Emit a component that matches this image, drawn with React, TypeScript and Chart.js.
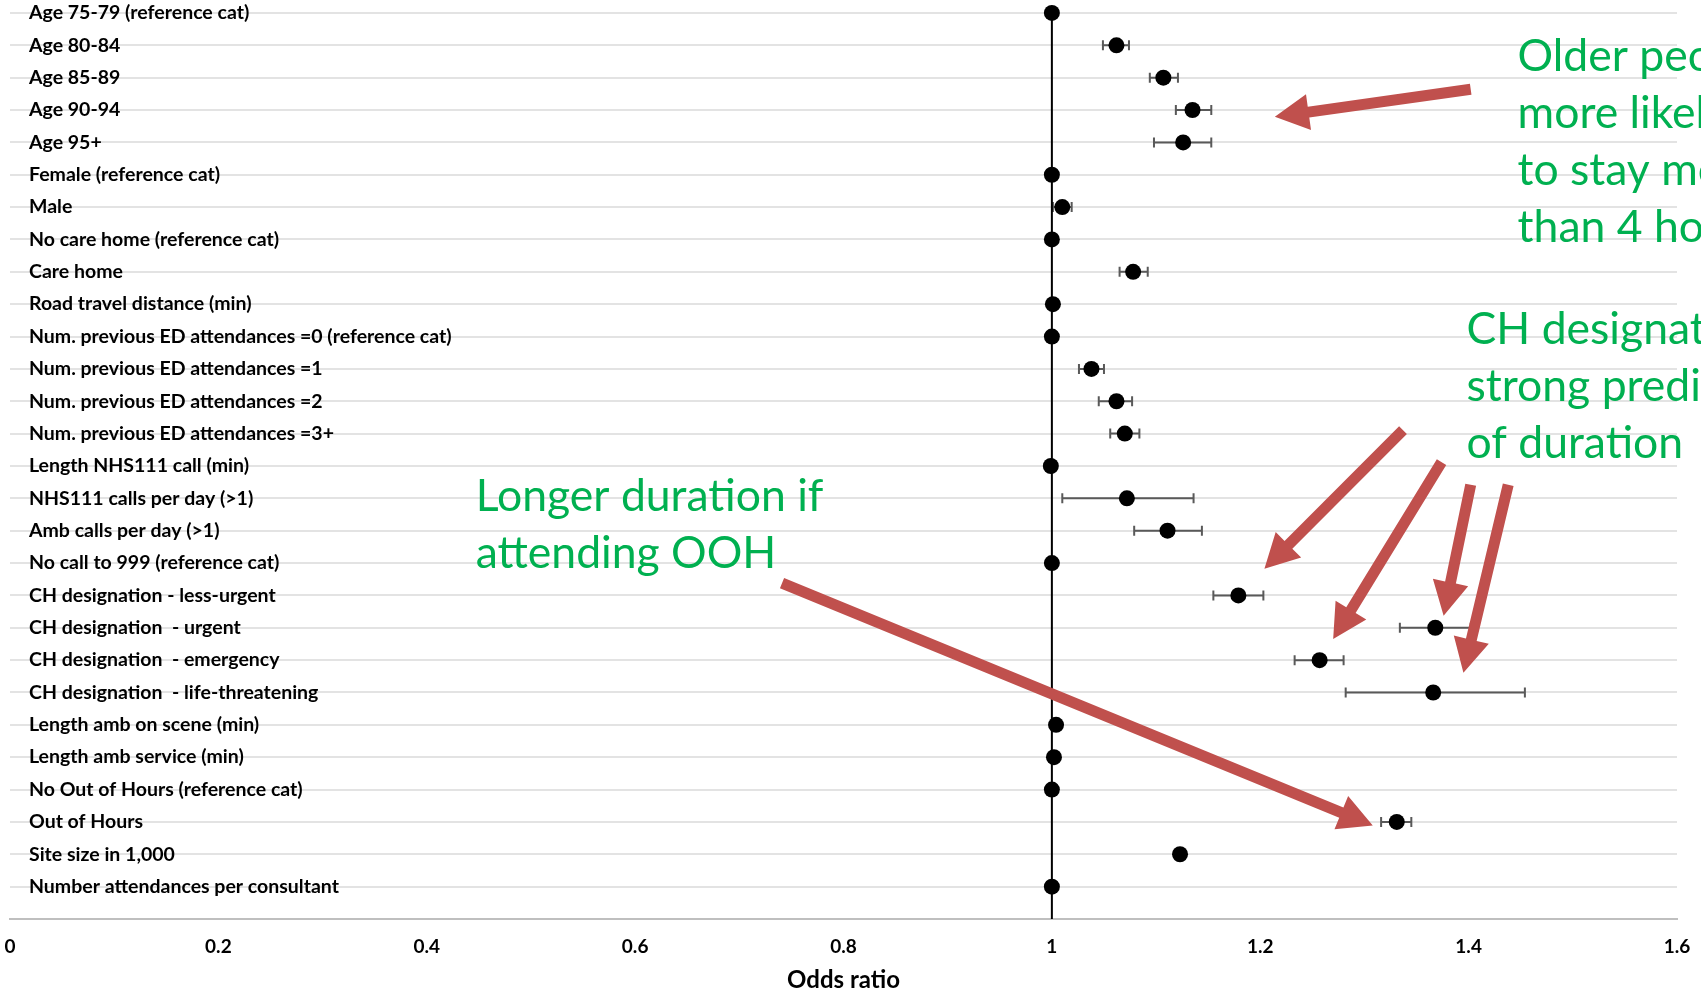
import React, { useEffect, useRef } from "react";
import { Chart, registerables } from "chart.js";

Chart.register(...registerables);

const categories: string[] = [
  "Age 75-79 (reference cat)",
  "Age 80-84",
  "Age 85-89",
  "Age 90-94",
  "Age 95+",
  "Female (reference cat)",
  "Male",
  "No care home (reference cat)",
  "Care home",
  "Road travel distance (min)",
  "Num. previous ED attendances =0 (reference cat)",
  "Num. previous ED attendances =1",
  "Num. previous ED attendances =2",
  "Num. previous ED attendances =3+",
  "Length NHS111 call (min)",
  "NHS111 calls per day (>1)",
  "Amb calls per day (>1)",
  "No call to 999 (reference cat)",
  "CH designation - less-urgent",
  "CH designation  - urgent",
  "CH designation  - emergency",
  "CH designation  - life-threatening",
  "Length amb on scene (min)",
  "Length amb service (min)",
  "No Out of Hours (reference cat)",
  "Out of Hours",
  "Site size in 1,000",
  "Number attendances per consultant",
];

const oddsRatios: number[] = [
  1.0, 1.062, 1.107, 1.135, 1.126, 1.0, 1.01, 1.0, 1.078, 1.001, 1.0, 1.038,
  1.062, 1.07, 0.999, 1.072, 1.111, 1.0, 1.179, 1.368, 1.257, 1.366, 1.004,
  1.002, 1.0, 1.331, 1.123, 1.0,
];

const lowerCI: (number | null)[] = [
  null, 1.049, 1.094, 1.119, 1.098, null, 1.001, null, 1.065, 1.0, null, 1.026,
  1.045, 1.056, 0.998, 1.01, 1.079, null, 1.155, 1.334, 1.233, 1.282, 1.003,
  1.001, null, 1.316, 1.12, null,
];

const upperCI: (number | null)[] = [
  null, 1.074, 1.121, 1.153, 1.153, null, 1.019, null, 1.092, 1.002, null, 1.05,
  1.077, 1.084, 1.0, 1.136, 1.144, null, 1.203, 1.402, 1.28, 1.454, 1.005,
  1.003, null, 1.345, 1.127, null,
];

const xTicks = { min: 0, max: 1.6, step: 0.2 };
const referenceOR = 1;

// annotation arrows, in chart value coordinates [oddsRatio, rowValue]
const arrows: { from: [number, number]; to: [number, number] }[] = [
  { from: [1.402, 25.64], to: [1.214, 24.79] },
  { from: [1.337, 15.11], to: [1.204, 10.82] },
  { from: [1.374, 14.12], to: [1.27, 8.65] },
  { from: [1.402, 13.42], to: [1.376, 9.37] },
  { from: [1.438, 13.42], to: [1.395, 7.61] },
  { from: [0.741, 10.38], to: [1.308, 2.89] },
];

const notes: { lines: string[]; at: [number, number] }[] = [
  { lines: ["Older people", "more likely", "to stay more", "than 4 hours"], at: [1.447, 26.66] },
  { lines: ["CH designation", "strong predictor", "of duration"], at: [1.398, 18.22] },
  { lines: ["Longer duration if", "attending OOH"], at: [0.447, 13.06] },
];

const FONT = "Lato, 'Open Sans', sans-serif";

const zeroPadding = (s: any) => {
  s.paddingTop = 0;
  s.paddingBottom = 0;
  s.paddingLeft = 0;
  s.paddingRight = 0;
};

export default function App() {
  const ref = useRef<HTMLCanvasElement>(null);

  useEffect(() => {
    const canvas = ref.current!;
    const n = categories.length;

    const errorBars = {
      id: "errorBars",
      beforeDatasetsDraw(chart: any) {
        const { ctx, scales } = chart;
        const x = scales.x, y = scales.y;
        ctx.save();
        ctx.strokeStyle = "#595959";
        ctx.lineWidth = 2;
        lowerCI.forEach((lo, i) => {
          const hi = upperCI[i];
          if (lo == null || hi == null) return;
          const py = y.getPixelForValue(n - i);
          const x1 = x.getPixelForValue(lo);
          const x2 = x.getPixelForValue(hi);
          ctx.beginPath();
          ctx.moveTo(x1, py);
          ctx.lineTo(x2, py);
          ctx.moveTo(x1, py - 5);
          ctx.lineTo(x1, py + 5);
          ctx.moveTo(x2, py - 5);
          ctx.lineTo(x2, py + 5);
          ctx.stroke();
        });
        ctx.restore();
      },
    };

    const annotations = {
      id: "annotations",
      afterDraw(chart: any) {
        const { ctx, scales } = chart;
        const x = scales.x, y = scales.y;
        ctx.save();
        ctx.fillStyle = "#c0504d";
        const shaft = 11, headLen = 34, headW = 36;
        arrows.forEach((a) => {
          const x0 = x.getPixelForValue(a.from[0]);
          const y0 = y.getPixelForValue(a.from[1]);
          const x1 = x.getPixelForValue(a.to[0]);
          const y1 = y.getPixelForValue(a.to[1]);
          const len = Math.hypot(x1 - x0, y1 - y0);
          const ux = (x1 - x0) / len, uy = (y1 - y0) / len;
          const nx = -uy, ny = ux;
          const bx = x1 - ux * headLen, by = y1 - uy * headLen;
          ctx.beginPath();
          ctx.moveTo(x0 + nx * shaft / 2, y0 + ny * shaft / 2);
          ctx.lineTo(bx + nx * shaft / 2, by + ny * shaft / 2);
          ctx.lineTo(bx + nx * headW / 2, by + ny * headW / 2);
          ctx.lineTo(x1, y1);
          ctx.lineTo(bx - nx * headW / 2, by - ny * headW / 2);
          ctx.lineTo(bx - nx * shaft / 2, by - ny * shaft / 2);
          ctx.lineTo(x0 - nx * shaft / 2, y0 - ny * shaft / 2);
          ctx.closePath();
          ctx.fill();
        });
        ctx.fillStyle = "#00b050";
        ctx.font = `400 44.5px ${FONT}`;
        ctx.textAlign = "left";
        ctx.textBaseline = "middle";
        notes.forEach((note) => {
          const px = x.getPixelForValue(note.at[0]);
          note.lines.forEach((line, k) => {
            const py = y.getPixelForValue(note.at[1] - k * 1.76);
            ctx.fillText(line, px, py);
          });
        });
        ctx.restore();
      },
    };

    const chart = new Chart(canvas, {
      type: "scatter",
      data: {
        datasets: [
          {
            label: "Odds ratio",
            data: oddsRatios.map((v, i) => ({ x: v, y: n - i })),
            pointRadius: 8,
            pointHoverRadius: 8,
            backgroundColor: "#000",
            borderColor: "#000",
            borderWidth: 0,
            clip: false,
          },
          {
            label: "Reference",
            data: [
              { x: referenceOR, y: 0 },
              { x: referenceOR, y: n },
            ],
            showLine: true,
            pointRadius: 0,
            borderColor: "#000",
            borderWidth: 2,
          },
        ],
      },
      options: {
        responsive: false,
        animation: false,
        events: [],
        layout: { autoPadding: false, padding: { left: 10, right: 24, top: 0, bottom: 0 } },
        plugins: { legend: { display: false }, tooltip: { enabled: false } },
        scales: {
          x: {
            type: "linear",
            position: "bottom",
            min: xTicks.min,
            max: xTicks.max,
            grid: { display: false, drawTicks: false },
            border: { display: true, color: "#bfbfbf", width: 2 },
            ticks: {
              stepSize: xTicks.step,
              padding: 16,
              color: "#000",
              font: { family: FONT, weight: "bold", size: 19 },
              callback: (v: any) => String(Math.round(Number(v) * 10) / 10),
            },
            title: {
              display: true,
              text: "Odds ratio",
              color: "#000",
              font: { family: FONT, weight: "bold", size: 24 },
              padding: { top: 0, bottom: 0 },
            },
            afterFit: (s: any) => {
              s.height = 76;
              zeroPadding(s);
            },
          },
          y: {
            type: "linear",
            position: "left",
            min: 0,
            max: 28.4,
            grid: { color: "#e3e3e3", lineWidth: 2, drawTicks: false },
            border: { display: false },
            ticks: {
              mirror: true,
              padding: 19,
              autoSkip: false,
              color: "#000",
              font: { family: FONT, weight: "bold", size: 19.5 },
              callback: (v: any) => categories[n - Number(v)] ?? "",
            },
            afterBuildTicks: (s: any) => {
              s.ticks = categories.map((_, i) => ({ value: n - i }));
            },
            afterFit: (s: any) => {
              s.width = 0;
              zeroPadding(s);
            },
          },
        },
      },
      plugins: [errorBars, annotations],
    } as any);

    return () => chart.destroy();
  }, []);

  return (
    <div style={{ position: "fixed", left: 0, top: 0, width: 1701, height: 995, background: "#fff" }}>
      <canvas ref={ref} width={1701} height={995} style={{ display: "block" }} />
    </div>
  );
}
